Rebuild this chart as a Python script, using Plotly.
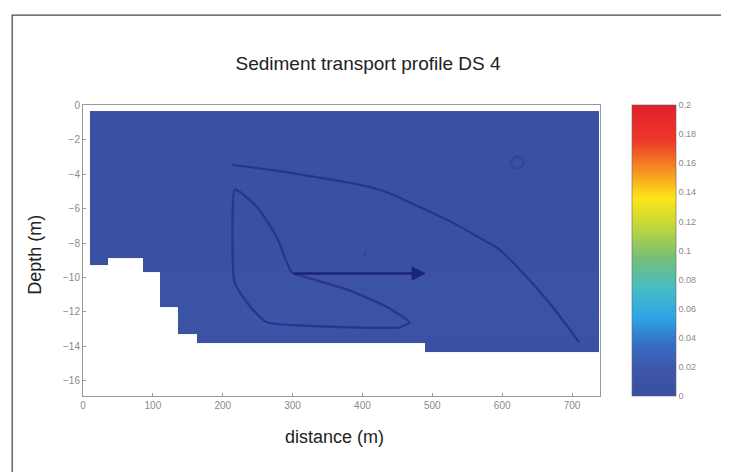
import numpy as np
import plotly.graph_objects as go

# ---------------- data ----------------
# bathymetry: column edges (m) and bed depth (m) for each column
bed_x_edges = [10, 36, 86, 110, 136, 163, 230, 300, 400, 489, 600, 738]
bed_depth = [-9.3, -8.9, -9.7, -11.7, -13.3, -13.8, -13.8, -13.8, -13.8, -14.3, -14.3]

# vertical cell edges (m)
depth_edges = [-14.3, -13.8, -13.3, -12.5, -11.7, -9.7, -9.3, -8.9, -6.0, -3.0, -0.35]

# sediment transport level per depth band (near zero everywhere)
band_transport = [0.006, 0.007, 0.008, 0.009, 0.008, 0.006, 0.005, 0.005, 0.004, 0.004]
# a slightly higher-transport patch near the bed at 230-300 m
patch_x = [230, 300]
patch_depth = [-13.3, -11.7]
patch_transport = 0.011

# contour lines
outer_x = [214, 314, 424, 481, 529, 567, 596, 629, 667, 710]
outer_y = [-3.47, -4.05, -4.91, -5.90, -6.82, -7.69, -8.38, -9.71, -11.45, -13.76]

lobe_x = [217, 214, 217, 239, 263, 339, 453, 467, 434, 377, 320, 299, 277, 249, 224, 217]
lobe_y = [-4.91, -6.47, -10.29, -11.68, -12.60, -12.83, -12.89, -12.60, -11.68,
          -10.69, -10.0, -9.71, -7.63, -5.90, -5.03, -4.91]

loop_x = [612, 621, 631, 621, 612]
loop_y = [-3.35, -3.0, -3.35, -3.7, -3.35]

arrow_start = (300, -9.77)
arrow_end = (491, -9.77)
label_pos = (403, -8.55)

x_ticks = [0, 100, 200, 300, 400, 500, 600, 700]
y_ticks = [0, -2, -4, -6, -8, -10, -12, -14, -16]
cb_ticks = [0, 0.02, 0.04, 0.06, 0.08, 0.1, 0.12, 0.14, 0.16, 0.18, 0.2]
cb_labels = ["0", "0.02", "0.04", "0.06", "0.08", "0.1", "0.12", "0.14", "0.16", "0.18", "0.2"]

# ---------------- build field ----------------
ncols = len(bed_x_edges) - 1
nrows = len(depth_edges) - 1
z = []
for r in range(nrows):
    row = []
    bot = depth_edges[r]
    for c in range(ncols):
        if bot < bed_depth[c] - 1e-9:
            row.append(None)
        else:
            v = band_transport[r]
            if (bed_x_edges[c] >= patch_x[0] and bed_x_edges[c + 1] <= patch_x[1]
                    and bot >= patch_depth[0] and depth_edges[r + 1] <= patch_depth[1]):
                v = patch_transport
            row.append(v)
    z.append(row)

colorscale = [
    [0.0, "rgb(57,78,160)"],
    [0.10, "rgb(62,88,172)"],
    [0.18, "rgb(55,110,198)"],
    [0.27, "rgb(45,165,228)"],
    [0.37, "rgb(70,188,195)"],
    [0.48, "rgb(120,192,115)"],
    [0.60, "rgb(205,218,50)"],
    [0.68, "rgb(252,230,25)"],
    [0.78, "rgb(245,140,35)"],
    [0.88, "rgb(236,55,42)"],
    [1.0, "rgb(225,32,42)"],
]

fig = go.Figure()
fig.add_trace(go.Heatmap(
    x=bed_x_edges, y=depth_edges, z=z,
    zmin=0, zmax=0.2, colorscale=colorscale, hoverongaps=False,
    colorbar=dict(
        x=1.062, xanchor="left", y=0.5, yanchor="middle",
        len=1.0, lenmode="fraction", thickness=44,
        outlinewidth=0.6, outlinecolor="#666",
        tickvals=cb_ticks, ticktext=cb_labels, ticks="",
        tickfont=dict(size=9, color="#8a8a8a", family="Arial"),
        xpad=0, ypad=0,
    ),
))

line_col = "rgb(40,52,142)"
fig.add_trace(go.Scatter(x=outer_x, y=outer_y, mode="lines",
                         line=dict(color=line_col, width=2.2, shape="spline", smoothing=1.0),
                         showlegend=False, hoverinfo="skip"))
fig.add_trace(go.Scatter(x=lobe_x, y=lobe_y, mode="lines",
                         line=dict(color=line_col, width=2.2, shape="spline", smoothing=0.5),
                         showlegend=False, hoverinfo="skip"))
fig.add_trace(go.Scatter(x=loop_x, y=loop_y, mode="lines",
                         line=dict(color="rgb(50,68,155)", width=2, shape="spline", smoothing=1.3),
                         showlegend=False, hoverinfo="skip"))

fig.add_annotation(x=arrow_end[0], y=arrow_end[1], ax=arrow_start[0], ay=arrow_start[1],
                   xref="x", yref="y", axref="x", ayref="y", text="",
                   showarrow=True, arrowhead=2, arrowsize=1.2, arrowwidth=2.4,
                   arrowcolor="rgb(28,36,118)")
fig.add_annotation(x=label_pos[0], y=label_pos[1], xref="x", yref="y", text="z",
                   showarrow=False, font=dict(size=8, color="rgb(45,60,150)"))

text_font = "Arial"
fig.add_annotation(x=0.487, y=-0.141, xref="paper", yref="paper", text="distance (m)",
                   showarrow=False, font=dict(size=18, color="#222", family=text_font),
                   xanchor="center", yanchor="middle")
fig.add_annotation(x=-0.093, y=0.485, xref="paper", yref="paper", text="Depth (m)",
                   showarrow=False, textangle=-90,
                   font=dict(size=18, color="#222", family=text_font),
                   xanchor="center", yanchor="middle")

# outer frame (its bottom edge lies below the page, as in the original)
fig.add_shape(type="rect", xref="paper", yref="paper",
              x0=-0.137, x1=1.246, y0=-0.35, y1=1.309,
              line=dict(color="#444", width=1.2), fillcolor="rgba(0,0,0,0)")

axis_common = dict(showgrid=False, zeroline=False, showline=True, linecolor="#999",
                   linewidth=1, mirror=True, ticks="inside", ticklen=3,
                   tickcolor="#999", tickfont=dict(size=10, color="#8a8a8a", family="Arial"))
fig.update_xaxes(range=[0, 740], tickvals=x_ticks, **axis_common)
fig.update_yaxes(range=[-16.87, 0], tickvals=y_ticks, **axis_common)

# the page body adds an 8 px offset, so the figure is 8 px smaller on each side
fig.update_layout(
    width=721, height=464,
    margin=dict(l=75, r=129, t=97, b=76),
    paper_bgcolor="white", plot_bgcolor="white",
    title=dict(text="Sediment transport profile DS 4", x=0.4993, xanchor="center",
               y=0.8815, yanchor="middle",
               font=dict(size=19, color="#222", family=text_font)),
    showlegend=False,
)

fig.write_html("out.html")
